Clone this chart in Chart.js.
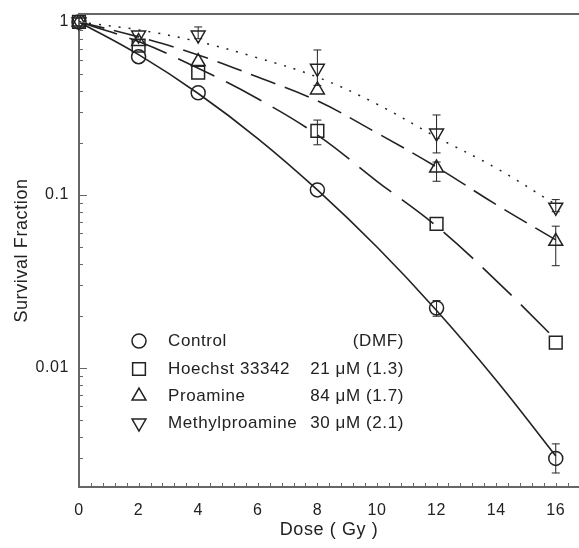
<!DOCTYPE html>
<html>
<head>
<meta charset="utf-8">
<script src="https://cdn.jsdelivr.net/npm/chart.js@4.4.0/dist/chart.umd.min.js"></script>
<style>
html, body { margin: 0; padding: 0; background: #fff; }
#wrap { width: 579px; height: 548px; }
</style>
</head>
<body>
<div id="wrap"><canvas id="survivalChart"></canvas></div>
<script>
// Measured points (dose in Gy)
const doses = [0, 2, 4, 8, 12, 16];
const controlPts = [1, 0.63, 0.39, 0.107, 0.0222, 0.0030];
const hoechstPts = [1, 0.73, 0.51, 0.235, 0.068, 0.0140];
const proaminePts = [1, 0.77, 0.59, 0.405, 0.143, 0.054];
const methylPts = [1, 0.84, 0.84, 0.54, 0.228, 0.085];

// Error bar ends (null = hidden behind the marker)
const controlHi = [null, null, null, null, 0.0245, 0.00364];
const controlLo = [null, null, null, null, 0.0199, 0.00247];
const hoechstHi = [null, null, null, 0.271, null, null];
const hoechstLo = [null, null, null, 0.195, null, null];
const proamineHi = [null, null, null, null, 0.155, 0.066];
const proamineLo = [null, null, null, null, 0.120, 0.039];
const methylHi = [null, null, 0.936, 0.689, 0.290, 0.094];
const methylLo = [null, null, 0.80, 0.43, 0.175, 0.080];

// Fitted curves
const fitDoses = [0, 2, 4, 6, 8, 10, 12, 14, 16];
const controlFit = [1, 0.647, 0.386, 0.212, 0.107, 0.050, 0.0215, 0.0085, 0.0031];
const hoechstFit = [1, 0.77, 0.54, 0.36, 0.222, 0.12, 0.066, 0.032, 0.0146];
const proamineFit = [1, 0.82, 0.645, 0.48, 0.35, 0.228, 0.145, 0.088, 0.055];
const methylFit = [1, 0.90, 0.77, 0.62, 0.48, 0.335, 0.216, 0.143, 0.088];

// Axis ticks
const xTickValues = [0, 2, 4, 6, 8, 10, 12, 14, 16];
const xMinorTicks = [0.4, 0.8, 1.2, 1.6, 2, 2.4, 2.8, 3.2, 3.6, 4, 4.4, 4.8, 5.2, 5.6, 6, 6.4, 6.8, 7.2, 7.6, 8,
  8.4, 8.8, 9.2, 9.6, 10, 10.4, 10.8, 11.2, 11.6, 12, 12.4, 12.8, 13.2, 13.6, 14, 14.4, 14.8, 15.2, 15.6, 16, 16.4];
const yTickValues = [0.01, 0.1, 1];
const yMinorTicks = [0.003, 0.004, 0.005, 0.006, 0.007, 0.008, 0.009,
  0.02, 0.03, 0.04, 0.05, 0.06, 0.07, 0.08, 0.09,
  0.2, 0.3, 0.4, 0.5, 0.6, 0.7, 0.8, 0.9];

// Legend
const legendNames = ['Control', 'Hoechst 33342', 'Proamine', 'Methylproamine'];
const legendConc = ['(DMF)', '21 \u03bcM (1.3)', '84 \u03bcM (1.7)', '30 \u03bcM (2.1)'];

const INK = '#222';
const AXIS = '#666';
const FONT = "'Liberation Sans', Arial, sans-serif";

const markerStyles = [
  { pointStyle: 'circle', radius: 7, rotation: 0 },
  { pointStyle: 'rect', radius: 9, rotation: 0 },
  { pointStyle: 'triangle', radius: 8, rotation: 0 },
  { pointStyle: 'triangle', radius: 8, rotation: 180 }
];

function toXY(xs, ys) {
  return xs.map((x, i) => ({ x: x, y: ys[i] }));
}

function curve(label, xs, ys, dash, width) {
  return {
    label: label,
    data: toXY(xs, ys),
    borderColor: INK,
    borderWidth: width,
    borderDash: dash,
    pointRadius: 0,
    tension: 0.4,
    fill: false
  };
}

function markers(label, ys, style, hi, lo) {
  return {
    label: label,
    data: toXY(doses, ys),
    showLine: false,
    pointStyle: style.pointStyle,
    pointRadius: style.radius,
    pointRotation: style.rotation,
    pointBorderColor: INK,
    pointBackgroundColor: 'rgba(0,0,0,0)',
    pointBorderWidth: 1.5,
    clip: false,
    errHi: hi,
    errLo: lo
  };
}

// the original lettering is a little wider than Liberation Sans
const wideText = {
  id: 'wideText',
  beforeDraw(chart) {
    chart.ctx.letterSpacing = '0.6px';
  }
};

const errorBars = {
  id: 'errorBars',
  afterDatasetsDraw(chart) {
    const ctx = chart.ctx;
    const y = chart.scales.y;
    ctx.save();
    ctx.strokeStyle = INK;
    ctx.lineWidth = 1;
    chart.data.datasets.forEach((ds, di) => {
      if (!ds.errHi) return;
      const meta = chart.getDatasetMeta(di);
      meta.data.forEach((pt, i) => {
        const hi = ds.errHi[i], lo = ds.errLo[i];
        if (hi == null) return;
        const px = pt.x;
        const yHi = y.getPixelForValue(hi);
        const yLo = y.getPixelForValue(lo);
        ctx.beginPath();
        ctx.moveTo(px, yHi); ctx.lineTo(px, yLo);
        ctx.moveTo(px - 4, yHi); ctx.lineTo(px + 4, yHi);
        ctx.moveTo(px - 4, yLo); ctx.lineTo(px + 4, yLo);
        ctx.stroke();
      });
    });
    ctx.restore();
  }
};

const frameTicks = {
  id: 'frameTicks',
  afterDraw(chart) {
    const ctx = chart.ctx;
    const { left, right, top, bottom } = chart.chartArea;
    const x = chart.scales.x, y = chart.scales.y;
    ctx.save();
    ctx.strokeStyle = AXIS;
    ctx.lineWidth = 2;
    ctx.beginPath();
    ctx.moveTo(left - 1, top); ctx.lineTo(right, top);
    ctx.stroke();
    ctx.lineWidth = 1;
    ctx.beginPath();
    xMinorTicks.forEach(v => {
      const px = Math.round(x.getPixelForValue(v)) + 0.5;
      ctx.moveTo(px, bottom); ctx.lineTo(px, bottom - 4);
    });
    yMinorTicks.forEach(v => {
      const py = Math.round(y.getPixelForValue(v)) + 0.5;
      ctx.moveTo(left, py); ctx.lineTo(left + 4, py);
    });
    yTickValues.forEach(v => {
      const py = Math.round(y.getPixelForValue(v)) + 0.5;
      ctx.moveTo(left, py); ctx.lineTo(left + 8, py);
    });
    ctx.stroke();
    ctx.restore();
  }
};

const legendBox = {
  id: 'legendBox',
  afterDraw(chart) {
    const ctx = chart.ctx;
    const rowY = [341, 369, 396, 423];
    ctx.save();
    ctx.font = '17px ' + FONT;
    ctx.textBaseline = 'middle';
    legendNames.forEach((name, i) => {
      ctx.strokeStyle = INK;
      ctx.fillStyle = 'rgba(0,0,0,0)';
      Chart.helpers.drawPoint(ctx, {
        pointStyle: markerStyles[i].pointStyle,
        rotation: markerStyles[i].rotation,
        radius: markerStyles[i].radius,
        borderWidth: 1.5
      }, 139, rowY[i]);
      ctx.fillStyle = INK;
      ctx.textAlign = 'left';
      ctx.fillText(name, 168, rowY[i]);
      ctx.textAlign = 'right';
      ctx.fillText(legendConc[i], 404, rowY[i]);
    });
    ctx.restore();
  }
};

new Chart(document.getElementById('survivalChart'), {
  type: 'line',
  data: {
    datasets: [
      curve('Control fit', fitDoses, controlFit, [], 1.6),
      curve('Hoechst fit', fitDoses, hoechstFit, [40, 13], 1.6),
      curve('Proamine fit', fitDoses, proamineFit, [26, 10], 1.6),
      curve('Methylproamine fit', fitDoses, methylFit, [2, 8], 1.5),
      markers('Control', controlPts, markerStyles[0], controlHi, controlLo),
      markers('Hoechst 33342', hoechstPts, markerStyles[1], hoechstHi, hoechstLo),
      markers('Proamine', proaminePts, markerStyles[2], proamineHi, proamineLo),
      markers('Methylproamine', methylPts, markerStyles[3], methylHi, methylLo)
    ]
  },
  options: {
    responsive: true,
    maintainAspectRatio: false,
    animation: false,
    layout: { autoPadding: false, padding: { top: 14, right: 0, bottom: 0, left: 0 } },
    plugins: {
      legend: { display: false },
      tooltip: { enabled: false }
    },
    scales: {
      x: {
        type: 'linear',
        min: 0,
        max: 16.78,
        afterBuildTicks: scale => { scale.ticks = xTickValues.map(v => ({ value: v })); },
        afterFit: scale => { scale.height = 61; scale.paddingRight = 0; scale.paddingLeft = 0; },
        grid: { display: false, drawTicks: false },
        border: { display: true, color: AXIS, width: 2 },
        ticks: { color: INK, font: { family: FONT, size: 16 }, padding: 14, maxRotation: 0 },
        title: { display: true, text: 'Dose ( Gy )', color: INK, font: { family: FONT, size: 18 }, padding: { bottom: 7 } }
      },
      y: {
        type: 'logarithmic',
        min: 0.00205,
        max: 1.112,
        afterBuildTicks: scale => { scale.ticks = yTickValues.map(v => ({ value: v })); },
        afterFit: scale => { scale.width = 79; scale.paddingTop = 0; scale.paddingBottom = 0; },
        grid: { display: false, drawTicks: false },
        border: { display: true, color: AXIS, width: 2 },
        ticks: { color: INK, font: { family: FONT, size: 16 }, padding: 10, callback: v => String(v) },
        title: { display: true, text: 'Survival Fraction', color: INK, font: { family: FONT, size: 18 }, padding: { top: 11 } }
      }
    }
  },
  plugins: [wideText, errorBars, frameTicks, legendBox]
});
</script>
</body>
</html>
